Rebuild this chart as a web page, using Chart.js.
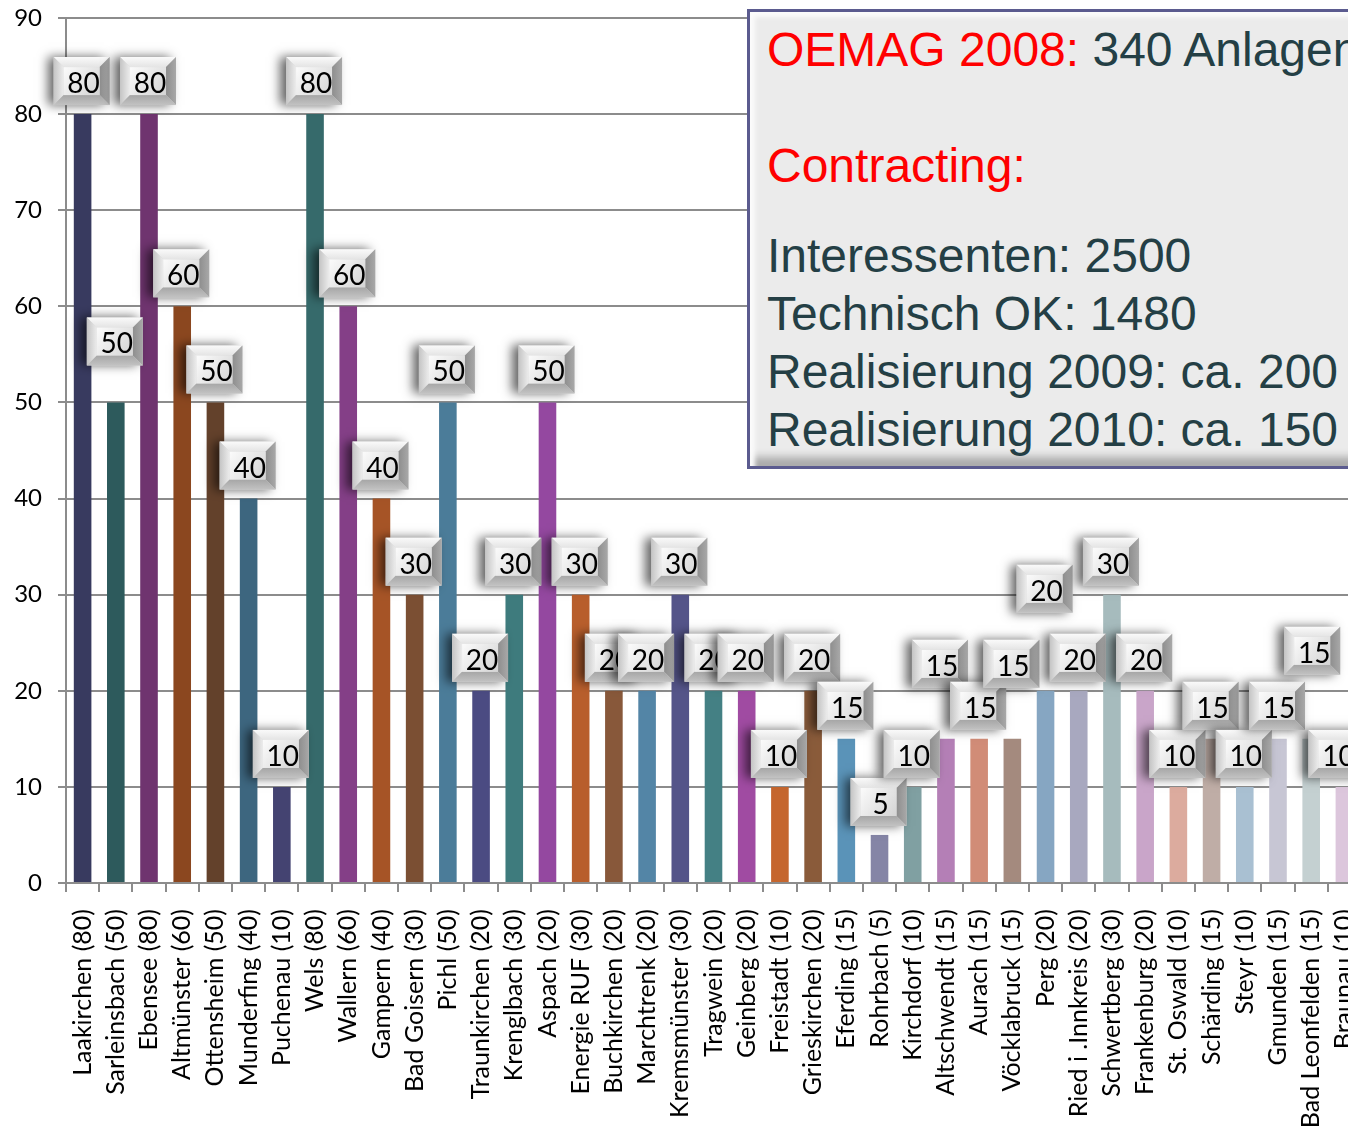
<!DOCTYPE html>
<html>
<head>
<meta charset="utf-8">
<script src="https://cdn.jsdelivr.net/npm/chart.js@4.4.1/dist/chart.umd.min.js"></script>
<style>
    html, body { margin: 0; padding: 0; background: #fff; width: 1348px; height: 1126px; overflow: hidden; }
    #wrap { position: absolute; left: 0; top: 0; width: 1376px; height: 1126px; }
    #note {
        position: absolute; left: 747px; top: 9px; width: 700px; height: 445px;
        padding: 9px 0 0 17px;
        border: 3px solid #5b5b8f; background: #ebebeb;
        box-shadow: inset 5px 5px 4px #fbfbfb, inset -4px -9px 8px rgba(0, 0, 0, 0.28);
        font-family: "Liberation Sans", Arial, sans-serif; font-size: 48px; line-height: 58px;
        color: #243f45; white-space: nowrap;
    }
    #note .red { color: #ff0000; }
</style>
</head>
<body>
<div id="wrap"><canvas id="chart" width="1376" height="1126"></canvas></div>
<div id="note">
    <div><span class="red">OEMAG 2008:</span> 340 Anlagen</div>
    <div>&nbsp;</div>
    <div class="red">Contracting:</div>
    <div style="margin-top: 32px">Interessenten: 2500</div>
    <div>Technisch OK: 1480</div>
    <div>Realisierung 2009: ca. 200</div>
    <div>Realisierung 2010: ca. 150</div>
</div>
<script>
// Anlagen je Gemeinde (Contracting)

const categories = [
    'Laakirchen (80)', 'Sarleinsbach (50)', 'Ebensee (80)', 'Altmünster (60)', 'Ottensheim (50)',
    'Munderfing (40)', 'Puchenau (10)', 'Wels (80)', 'Wallern (60)', 'Gampern (40)',
    'Bad Goisern (30)', 'Pichl (50)', 'Traunkirchen (20)', 'Krenglbach (30)', 'Aspach (20)',
    'Energie RUF (30)', 'Buchkirchen (20)', 'Marchtrenk (20)', 'Kremsmünster (30)', 'Tragwein (20)',
    'Geinberg (20)', 'Freistadt (10)', 'Grieskirchen (20)', 'Eferding (15)', 'Rohrbach (5)',
    'Kirchdorf (10)', 'Altschwendt (15)', 'Aurach (15)', 'Vöcklabruck (15)', 'Perg (20)',
    'Ried i .Innkreis (20)', 'Schwertberg (30)', 'Frankenburg (20)', 'St. Oswald (10)', 'Schärding (15)',
    'Steyr (10)', 'Gmunden (15)', 'Bad Leonfelden (15)', 'Braunau (10)'
];

const values = [
    80, 50, 80, 60, 50, 40, 10, 80, 60, 40,
    30, 50, 20, 30, 50, 30, 20, 20, 30, 20,
    20, 10, 20, 15, 5, 10, 15, 15, 15, 20,
    20, 30, 20, 10, 15, 10, 15, 15, 10
];

const barColors = [
    '#383a5f', '#2d5a5c', '#6f346f', '#8b471f', '#63412b', '#3d667f', '#444371', '#366a6b', '#843f87', '#a65426',
    '#7b4f33', '#4b7c99', '#4b4b82', '#3e7b7d', '#9448a0', '#b85e2c', '#88583a', '#5385a6', '#545489', '#448084',
    '#a04ba2', '#c5662e', '#8a5b3a', '#5a93b8', '#8585a6', '#80a0a2', '#b47fb6', '#d18c77', '#a48a7e', '#86a6c2',
    '#a8a8bf', '#a6bbbd', '#c9a5c9', '#dcab9e', '#bfada6', '#a9c0d2', '#c7c6d4', '#c4d0d1', '#dcc6dc'
];

const yMax = 90;
const yStep = 10;

const FONT = 'Lato, "DejaVu Sans", sans-serif';

// 3D "button" labels above the bars, like the Excel original
function drawButton(ctx, cx, cy, text) {
    const w = 56, h = 48, b = 10;
    const x = cx - w / 2, y = cy - h / 2;

    ctx.save();
    ctx.shadowColor = 'rgba(0, 0, 0, 0.6)';
    ctx.shadowBlur = 10;
    ctx.shadowOffsetX = -6;
    ctx.fillStyle = '#d6d6d6';
    ctx.fillRect(x, y, w, h);
    ctx.restore();

    const poly = (pts, fill) => {
        ctx.beginPath();
        ctx.moveTo(pts[0][0], pts[0][1]);
        for (let i = 1; i < pts.length; i++) ctx.lineTo(pts[i][0], pts[i][1]);
        ctx.closePath();
        ctx.fillStyle = fill;
        ctx.fill();
    };
    const lg = (x0, y0, x1, y1, c0, c1) => {
        const g = ctx.createLinearGradient(x0, y0, x1, y1);
        g.addColorStop(0, c0);
        g.addColorStop(1, c1);
        return g;
    };
    poly([[x, y], [x + w, y], [x + w - b, y + b], [x + b, y + b]], lg(0, y, 0, y + b, '#fafafa', '#e4e4e4'));
    poly([[x, y], [x, y + h], [x + b, y + h - b], [x + b, y + b]], lg(x, 0, x + b, 0, '#c4c4c4', '#ececec'));
    poly([[x + w, y], [x + w, y + h], [x + w - b, y + h - b], [x + w - b, y + b]], lg(x + w - b, 0, x + w, 0, '#8e8e8e', '#a8a8a8'));
    poly([[x, y + h], [x + w, y + h], [x + w - b, y + h - b], [x + b, y + h - b]], lg(0, y + h - b, 0, y + h, '#a6a6a6', '#c2c2c2'));

    ctx.fillStyle = lg(x + b, y + b, x + w - b, y + h - b, '#fbfbfb', '#d4d4d4');
    ctx.fillRect(x + b, y + b, w - 2 * b, h - 2 * b);

    ctx.fillStyle = '#000';
    ctx.font = '28px ' + FONT;
    ctx.textAlign = 'center';
    ctx.textBaseline = 'middle';
    ctx.fillText(text, cx + 2, cy + 3);
}

const buttonLabels = {
    id: 'buttonLabels',
    afterDatasetsDraw(chart, args, opts) {
        const ctx = chart.ctx;
        const meta = chart.getDatasetMeta(0);
        meta.data.forEach((bar, i) => {
            const shift = opts.shift[i] || [0, 0];
            drawButton(ctx, bar.x - 1 + shift[0], bar.y - 33 + shift[1], String(values[i]));
        });
    }
};

function initChart() {
    const ctx = document.getElementById('chart').getContext('2d');
    new Chart(ctx, {
        type: 'bar',
        data: {
            labels: categories,
            datasets: [{
                data: values,
                backgroundColor: barColors,
                borderWidth: 0,
                categoryPercentage: 1,
                barPercentage: 0.53
            }]
        },
        options: {
            responsive: false,
            animation: false,
            devicePixelRatio: 1,
            layout: { padding: { top: 18, right: 15, left: 0, bottom: 0 } },
            scales: {
                x: {
                    grid: { display: true, drawOnChartArea: false, offset: true, tickLength: 9, color: '#8c8c8c', lineWidth: 2 },
                    border: { color: '#8c8c8c', width: 2 },
                    ticks: {
                        autoSkip: false, minRotation: 90, maxRotation: 90, padding: 17,
                        color: '#000', font: { family: FONT, size: 25 }
                    },
                    afterFit(scale) {
                        scale.height = 243;
                        scale.paddingLeft = 0;
                        scale.paddingRight = 0;
                    }
                },
                y: {
                    min: 0, max: yMax,
                    grid: { color: '#8c8c8c', lineWidth: 2, tickLength: 8 },
                    border: { color: '#8c8c8c', width: 2 },
                    ticks: { stepSize: yStep, padding: 16, color: '#000', font: { family: FONT, size: 24 } },
                    afterFit(scale) {
                        scale.width = 66;
                        scale.paddingTop = 0;
                        scale.paddingBottom = 0;
                    }
                }
            },
            plugins: {
                legend: { display: false },
                tooltip: { enabled: false },
                buttonLabels: {
                    shift: { 1: [0, -28], 26: [-5, -42], 28: [0, -42], 29: [0, -69], 37: [2, -55], 38: [-7, 0] }
                }
            }
        },
        plugins: [buttonLabels]
    });
}

initChart();
</script>
</body>
</html>
